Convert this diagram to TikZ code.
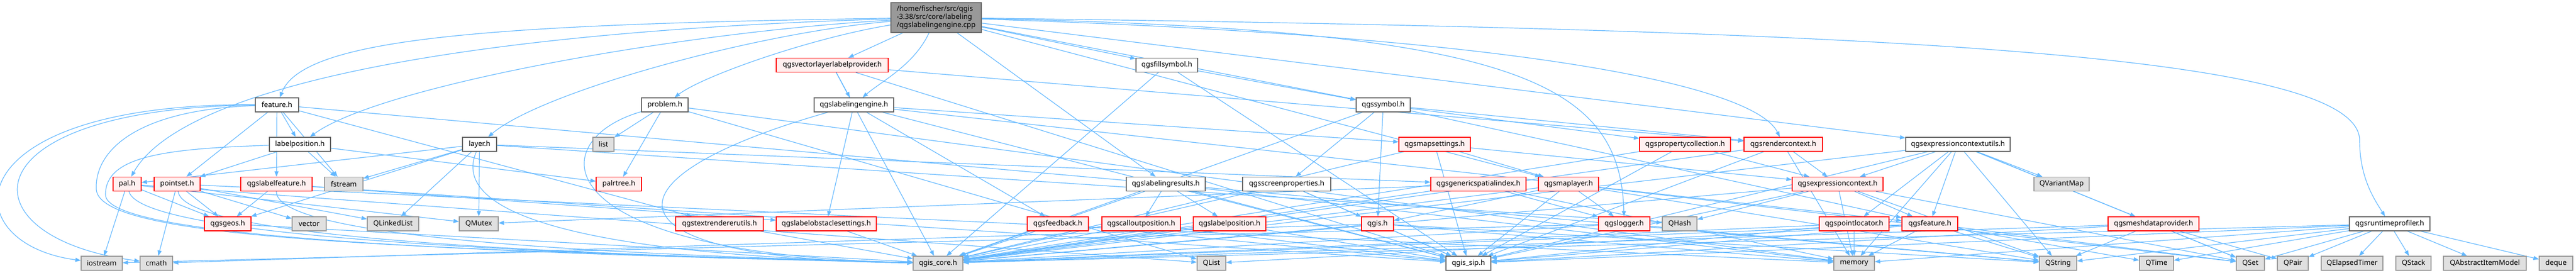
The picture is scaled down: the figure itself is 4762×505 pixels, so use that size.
\documentclass[tikz,border=0pt]{standalone}
\usepackage{fontspec}
\setmainfont{Noto Sans}
\usetikzlibrary{arrows.meta}
\definecolor{edgecol}{HTML}{63B8FF}
\definecolor{redfill}{HTML}{FFF0F0}
\definecolor{grayfill}{HTML}{E0E0E0}
\definecolor{rootfill}{HTML}{999999}
\definecolor{darkborder}{HTML}{666666}
\definecolor{grayborder}{HTML}{999999}
\pgfdeclarelayer{bg}
\pgfsetlayers{bg,main}
\newcommand\nd[6]{\node[#1, minimum width=#5pt] (#2) at (#3,#4) {#6};}
\begin{document}
\begin{tikzpicture}[x=1pt,y=-1pt,
  base/.style={draw, line width=1.3pt, minimum height=26pt, inner sep=0pt, font=\fontsize{13.2}{15}\selectfont, text=black},
  wnode/.style={base, fill=white, draw=darkborder},
  rnode/.style={base, fill=redfill, draw=red},
  gnode/.style={base, fill=grayfill, draw=grayborder},
  rootnode/.style={base, fill=rootfill, draw=darkborder, minimum height=55pt, align=left},
  edge/.style={draw=edgecol, line width=1.2pt, -{Triangle[length=10pt,width=7.5pt]}}]
\useasboundingbox (0,0) rectangle (4762,505);
% row 0
\nd{rootnode}{root}{1730.5}{32.5}{167}{/home/fischer/src/qgis\\-3.38/src/core/labeling\\/qgslabelingengine.cpp}
% row 1
\nd{rnode}{vlp}{1538.5}{120.5}{207}{qgsvectorlayerlabelprovider.h}
\nd{wnode}{fill}{2157}{120.5}{114}{qgsfillsymbol.h}
% row 2
\nd{wnode}{feature}{512}{194}{80}{feature.h}
\nd{wnode}{problem}{1229}{194}{86}{problem.h}
\nd{wnode}{engine}{1578.5}{194}{147}{qgslabelingengine.h}
\nd{wnode}{symbol}{2557}{194}{100}{qgssymbol.h}
% row 3
\nd{wnode}{labelpos}{554.5}{267}{113}{labelposition.h}
\nd{wnode}{layer}{886.5}{267}{63}{layer.h}
\nd{gnode}{list}{1115.5}{267}{39}{list}
\nd{rnode}{mapsettings}{2652}{267}{132}{qgsmapsettings.h}
\nd{rnode}{propcoll}{3115}{267}{168}{qgspropertycollection.h}
\nd{rnode}{rendercontext}{3296.5}{267}{145}{qgsrendercontext.h}
\nd{wnode}{ecu}{3619.5}{267}{193}{qgsexpressioncontextutils.h}
% row 4
\nd{rnode}{pal}{235}{340.5}{52}{pal.h}
\nd{rnode}{pointset}{327.5}{340.5}{85}{pointset.h}
\nd{rnode}{labelfeature}{511}{340.5}{132}{qgslabelfeature.h}
\nd{gnode}{fstream}{635.5}{340.5}{71}{fstream}
\nd{rnode}{palrtree}{1144}{340.5}{84}{palrtree.h}
\nd{wnode}{results}{2155}{340.5}{146}{qgslabelingresults.h}
\nd{wnode}{screen}{2378.5}{340.5}{163}{qgsscreenproperties.h}
\nd{rnode}{gsi}{2733}{340.5}{176}{qgsgenericspatialindex.h}
\nd{rnode}{maplayer}{2899.5}{340.5}{111}{qgsmaplayer.h}
\nd{rnode}{ec}{3397}{340.5}{168}{qgsexpressioncontext.h}
\nd{gnode}{qvariantmap}{3811}{340.5}{102}{QVariantMap}
% row 5
\nd{rnode}{geos}{421}{414}{86}{qgsgeos.h}
\nd{gnode}{vector}{571.5}{414}{63}{vector}
\nd{gnode}{qlinkedlist}{726.5}{414}{95}{QLinkedList}
\nd{gnode}{qmutex}{885}{414}{72}{QMutex}
\nd{rnode}{textutils}{1330}{414}{162}{qgstextrendererutils.h}
\nd{rnode}{obstacle}{1527.5}{414}{185}{qgslabelobstaclesettings.h}
\nd{rnode}{feedback}{1955.5}{414}{113}{qgsfeedback.h}
\nd{rnode}{callout}{2109.5}{414}{145}{qgscalloutposition.h}
\nd{rnode}{lposition}{2273}{414}{134}{qgslabelposition.h}
\nd{rnode}{qgis}{2546.5}{414}{59}{qgis.h}
\nd{rnode}{logger}{3002.5}{414}{95}{qgslogger.h}
\nd{gnode}{qhash}{3105}{414}{64}{QHash}
\nd{rnode}{pointlocator}{3427.5}{414}{129}{qgspointlocator.h}
\nd{rnode}{qfeature}{3567.5}{414}{103}{qgsfeature.h}
\nd{rnode}{mesh}{3981}{414}{168}{qgsmeshdataprovider.h}
\nd{wnode}{profiler}{4417.5}{414}{149}{qgsruntimeprofiler.h}
% row 6
\nd{gnode}{iostream}{188}{487}{76}{iostream}
\nd{gnode}{cmath}{289}{487}{60}{cmath}
\nd{gnode}{qgiscore}{1734}{487}{92}{qgis\_core.h}
\nd{gnode}{qlist}{2239.5}{487}{53}{QList}
\nd{wnode}{qgissip}{2714.5}{487}{83}{qgis\_sip.h}
\nd{gnode}{memory}{3427.5}{487}{75}{memory}
\nd{gnode}{qstring}{3804.5}{487}{69}{QString}
\nd{gnode}{qtime}{3986.5}{487}{63}{QTime}
\nd{gnode}{qset}{4160}{487}{52}{QSet}
\nd{gnode}{qpair}{4238.5}{487}{57}{QPair}
\nd{gnode}{qelapsed}{4348}{487}{114}{QElapsedTimer}
\nd{gnode}{qstack}{4461.5}{487}{65}{QStack}
\nd{gnode}{qaim}{4593.5}{487}{153}{QAbstractItemModel}
\nd{gnode}{deque}{4725}{487}{62}{deque}
\begin{pgfonlayer}{bg}
% curved edges from the root
\draw[edge] (root) .. controls (900,45) and (560,70) .. (feature);
\draw[edge] (root) .. controls (800,60) and (330,170) .. (pal);
\draw[edge] (root) .. controls (1250,60) and (700,160) .. (labelpos);
\draw[edge] (root) .. controls (1400,60) and (1000,170) .. (layer);
\draw[edge] (root) .. controls (1500,70) and (1300,140) .. (problem);
\draw[edge] (root) .. controls (1690,120) and (1630,150) .. (engine);
\draw[edge] (root) .. controls (2800,55) and (2995,150) .. (logger);
\draw[edge] (root) .. controls (2900,70) and (3250,170) .. (rendercontext);
\draw[edge] (root) .. controls (3500,55) and (4362,100) .. (4362,260) .. controls (4362,330) and (4390,370) .. (profiler);
% curved edges on the left
\draw[edge] (feature) .. controls (-90,190) and (-90,450) .. (iostream);
\draw[edge] (feature) .. controls (-70,200) and (-70,440) .. (cmath);
\draw[edge] (feature) .. controls (250,203) and (175,280) .. (178,350) .. controls (182,440) and (700,460) .. (qgiscore);
\draw[edge] (labelpos) .. controls (300,275) and (195,290) .. (195,360) .. controls (195,430) and (700,465) .. (qgiscore);
\draw[edge] (pal) .. controls (260,440) and (1000,470) .. (qgiscore);
\draw[edge] (pointset) .. controls (340,440) and (1000,470) .. (qgiscore);
\draw[edge] (labelfeature) .. controls (510,440) and (1100,470) .. (qgiscore);
\draw[edge] (layer) .. controls (820,420) and (1200,475) .. (qgiscore);
\draw[edge] (problem) .. controls (1000,260) and (1000,470) .. (qgiscore);
\draw[edge] (engine) .. controls (1100,330) and (1100,480) .. (qgiscore);
\foreach \a/\b in {
 root/vlp, root/results, root/fill, root/symbol, root/maplayer, root/ecu,
 vlp/engine, vlp/qgiscore, vlp/qgissip, vlp/rendercontext,
 fill/qgiscore, fill/qgissip, fill/symbol,
 feature/pointset, feature/labelpos, feature/labelfeature, feature/textutils,
 feature/fstream, feature/qstring,
 labelpos/pointset, labelpos/palrtree, labelpos/fstream,
 problem/list, problem/palrtree, problem/qlist, problem/memory,
 engine/qgissip, engine/mapsettings, engine/feedback, engine/obstacle, engine/qfeature,
 symbol/qgiscore, symbol/qgis, symbol/screen, symbol/propcoll, symbol/rendercontext, symbol/qfeature,
 mapsettings/qgiscore, mapsettings/qgissip, mapsettings/maplayer, mapsettings/ec,
 propcoll/qgiscore, propcoll/qgissip, propcoll/ec,
 rendercontext/qgiscore, rendercontext/qgissip, rendercontext/ec, rendercontext/memory,
 ecu/qgiscore, ecu/qgissip, ecu/ec, ecu/pointlocator, ecu/qfeature, ecu/memory, ecu/qvariantmap,
 ecu/qstring, ecu/mesh, ecu/qset,
 ec/qgiscore, ec/qgissip, ec/qfeature, ec/qstring, ec/qset, ec/qhash, ec/memory,
 results/qgiscore, results/qgissip, results/callout, results/lposition, results/memory,
 screen/qgiscore, screen/qgissip, screen/qgis,
 gsi/qgiscore, gsi/logger, gsi/qmutex, gsi/memory,
 maplayer/qgis, maplayer/qgiscore, maplayer/qgissip, maplayer/logger, maplayer/qstring, maplayer/qset,
 qgis/qgiscore, qgis/qgissip, qgis/cmath, qgis/qstring, qgis/memory,
 logger/qgiscore, logger/iostream, logger/qstring,
 pointlocator/qgiscore, pointlocator/qgissip, pointlocator/memory,
 qfeature/qgiscore, qfeature/qgissip, qfeature/memory, qfeature/qstring, qfeature/qset, qfeature/qlist, qfeature/qtime,
 mesh/qgiscore, mesh/qgissip, mesh/qstring, mesh/qset, mesh/qpair,
 profiler/qgiscore, profiler/qgissip, profiler/memory, profiler/qstring, profiler/qtime, profiler/qset,
 profiler/qpair, profiler/qelapsed, profiler/qstack, profiler/qaim, profiler/deque,
 pal/geos, pal/iostream, pal/qlist, pal/qmutex,
 pointset/geos, pointset/cmath, pointset/vector, pointset/qlinkedlist, pointset/memory,
 labelfeature/geos, labelfeature/obstacle, labelfeature/qgissip,
 geos/qgiscore,
 layer/pal, layer/geos, layer/gsi, layer/qmutex, layer/qlinkedlist, layer/qhash, layer/fstream,
 textutils/qgiscore, obstacle/qgiscore, feedback/qgiscore, feedback/qgissip,
 callout/qgiscore, callout/qgissip, lposition/qgiscore, lposition/qgissip}
 \draw[edge] (\a) -- (\b);
\end{pgfonlayer}
\end{tikzpicture}
\end{document}
